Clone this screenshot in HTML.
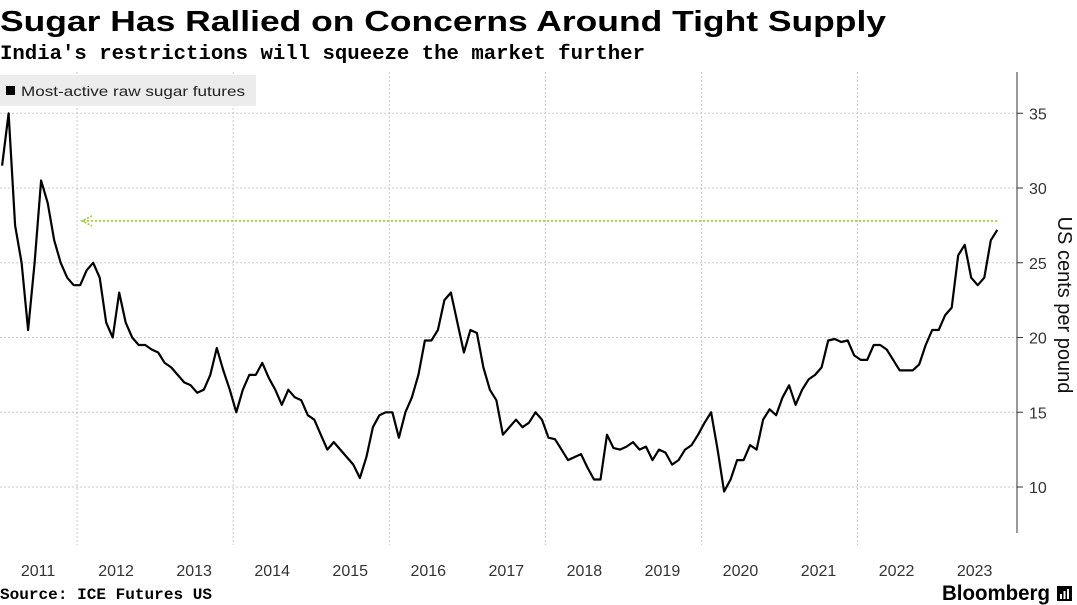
<!DOCTYPE html>
<html><head><meta charset="utf-8">
<style>
html,body{margin:0;padding:0;background:#fff;}
svg{display:block;font-family:"Liberation Sans",sans-serif;}
</style></head>
<body>
<svg id="chart" width="1077" height="605" viewBox="0 0 1077 605" xmlns="http://www.w3.org/2000/svg">
  <text x="0" y="31" font-size="29" font-weight="bold" textLength="886" lengthAdjust="spacingAndGlyphs">Sugar Has Rallied on Concerns Around Tight Supply</text>
  <text x="0" y="59" font-family="Liberation Mono, monospace" font-size="20" font-weight="bold" textLength="645" lengthAdjust="spacingAndGlyphs">India's restrictions will squeeze the market further</text>
  <g id="grid"></g>
  <g id="axis"></g>
  <g id="xaxis"></g>
  <g>
    <rect x="0" y="75" width="256" height="31" fill="#ececec"/>
    <rect x="6" y="86" width="9" height="9" fill="#000"/>
    <text x="21" y="96" font-size="14" fill="#222" textLength="224" lengthAdjust="spacingAndGlyphs">Most-active raw sugar futures</text>
  </g>
  <g id="marks"></g>
  <text transform="translate(1058,305) rotate(90)" text-anchor="middle" font-size="20" fill="#111">US cents per pound</text>
  <text x="0" y="599" font-family="Liberation Mono, monospace" font-size="16" font-weight="bold" textLength="212" lengthAdjust="spacingAndGlyphs">Source: ICE Futures US</text>
  <g>
    <text x="942" y="600" font-size="21" font-weight="bold" textLength="108" lengthAdjust="spacingAndGlyphs">Bloomberg</text>
    <rect x="1057" y="586" width="15" height="15" fill="#000"/>
    <rect x="1060" y="594" width="2" height="5" fill="#fff"/>
    <rect x="1063.5" y="591" width="2" height="8" fill="#fff"/>
    <rect x="1067" y="589" width="2" height="10" fill="#fff"/>
  </g>
</svg>
<script>
const yTicks = [10, 15, 20, 25, 30, 35];
const yearLabels = [2011,2012,2013,2014,2015,2016,2017,2018,2019,2020,2021,2022,2023];
const startYear = 2011;
// monthly values, Jan 2011 .. Oct 2023
const prices = [
 31.5,35,27.5,25,20.5,25,30.5,29,26.5,25,24,23.5,
 23.5,24.5,25,24,21,20,23,21,20,19.5,19.5,19.2,
 19,18.3,18,17.5,17,16.8,16.3,16.5,17.5,19.3,17.8,16.5,
 15,16.5,17.5,17.5,18.3,17.3,16.5,15.5,16.5,16,15.8,14.8,
 14.5,13.5,12.5,13,12.5,12,11.5,10.6,12,14,14.8,15,
 15,13.3,15,16,17.5,19.8,19.8,20.5,22.5,23,21,19,
 20.5,20.3,18,16.5,15.8,13.5,14,14.5,14,14.3,15,14.5,
 13.3,13.2,12.5,11.8,12,12.2,11.3,10.5,10.5,13.5,12.6,12.5,
 12.7,13,12.5,12.7,11.8,12.5,12.3,11.5,11.8,12.5,12.8,13.5,
 14.3,15,12.5,9.7,10.5,11.8,11.8,12.8,12.5,14.5,15.2,14.8,
 16,16.8,15.5,16.5,17.2,17.5,18,19.8,19.9,19.7,19.8,18.8,
 18.5,18.5,19.5,19.5,19.2,18.5,17.8,17.8,17.8,18.2,19.5,20.5,
 20.5,21.5,22,25.5,26.2,24,23.5,24,26.5,27.2
];
const refLevel = [27.8];

const NS = "http://www.w3.org/2000/svg";
const plotRight = 1017, yearW = 78.05, x0 = -1;
function xScale(t){ return x0 + (t - startYear) * yearW; }
function yScale(v){ return 487 - (v - 10) * 14.95; }
function mk(tag, attrs, parent){
  const e = document.createElementNS(NS, tag);
  for (const k in attrs) e.setAttribute(k, attrs[k]);
  parent.appendChild(e); return e;
}
const grid = document.getElementById('grid');
const axis = document.getElementById('axis');
const xaxis = document.getElementById('xaxis');
const marks = document.getElementById('marks');

yTicks.forEach(v => {
  const y = yScale(v);
  const g = mk('line', {x1:0, x2:plotRight, y1:y, y2:y, stroke:'#c8c8c8', 'stroke-dasharray':'2,2', 'stroke-width':1}, grid);
  
  
  const t = mk('line', {x1:plotRight, x2:plotRight+6, y1:y, y2:y, stroke:'#333'}, axis);
  
  
  const l = mk('text', {x:plotRight+12, y:y+6, 'font-size':16, fill:'#333'}, axis);
  l.textContent = v;
  
  
});
const ax = mk('line', {x1:plotRight, x2:plotRight, y1:72, y2:533, stroke:'#333'}, axis);



yearLabels.forEach(yr => {
  if ((yr - startYear) % 2 === 1) {
    const x = xScale(yr);
    const g = mk('line', {x1:x, x2:x, y1:72, y2:545, stroke:'#c8c8c8', 'stroke-dasharray':'2,2'}, grid);
    
    
  }
  const l = mk('text', {x:xScale(yr + 0.5), y:576, 'font-size':16, fill:'#333', 'text-anchor':'middle'}, xaxis);
  l.textContent = yr;
  
  
});

const ry = yScale(refLevel[0]);
const ref = mk('line', {x1:83, x2:xScale(startYear + (prices.length-1)/12 + 0.04), y1:ry, y2:ry, stroke:'#9acd32', 'stroke-width':1.6, 'stroke-dasharray':'2,2'}, marks);


const head = mk('polyline', {points:`92,${ry-5} 82,${ry} 92,${ry+5}`, fill:'none', stroke:'#9acd32', 'stroke-width':1.6, 'stroke-dasharray':'2,1.5'}, marks);



const pts = prices.map((v, i) => `${xScale(startYear + i/12 + 0.04).toFixed(1)},${yScale(v).toFixed(1)}`).join(' ');
const line = mk('polyline', {points:pts, fill:'none', stroke:'#000', 'stroke-width':2.2, 'stroke-linejoin':'round'}, marks);


</script>
</body></html>
